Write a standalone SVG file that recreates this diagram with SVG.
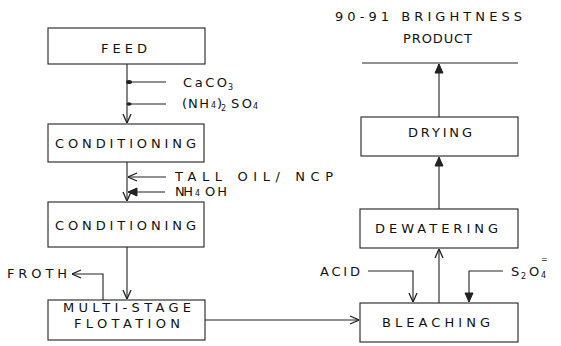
<svg xmlns="http://www.w3.org/2000/svg" width="561" height="346" viewBox="0 0 561 346">
<style>
.box{fill:#fff;stroke:#222;stroke-width:1.1}
.ln{fill:none;stroke:#222;stroke-width:1.1}
text{font-family:"DejaVu Sans","Liberation Sans",sans-serif;font-size:13px;fill:#111}
.sub{font-size:8px}
</style>
<defs>
<marker id="arr" viewBox="0 0 10 10" refX="10" refY="5" markerWidth="10" markerHeight="10" markerUnits="userSpaceOnUse" orient="auto">
<path d="M1,1 L10,5 L1,9" fill="none" stroke="#222" stroke-width="1.3"/>
</marker>
<marker id="arrf" viewBox="0 0 10 10" refX="10" refY="5" markerWidth="10" markerHeight="10" markerUnits="userSpaceOnUse" orient="auto">
<path d="M1,1 L10,5 L1,9 Z" fill="#222" stroke="#222" stroke-width="1"/>
</marker>
</defs>
<rect width="561" height="346" fill="#fff"/>

<g id="connectors">
<path class="ln" d="M127,64 V123" marker-end="url(#arr)"/>
<path class="ln" d="M166,82 H127"/>
<path class="ln" d="M166,104 H127"/>
<ellipse cx="129" cy="82" rx="3" ry="2" fill="#222"/>
<ellipse cx="129" cy="104" rx="2.5" ry="1.8" fill="#222"/>
<path class="ln" d="M127,162 V201" marker-end="url(#arr)"/>
<path class="ln" d="M166,177 H128" marker-end="url(#arr)"/>
<path class="ln" d="M165,192 H128" marker-end="url(#arrf)"/>
<path class="ln" d="M127,247 V299" marker-end="url(#arr)"/>
<path class="ln" d="M103,300 V274 H72" marker-end="url(#arr)"/>
<path class="ln" d="M205,320 H359" marker-end="url(#arr)"/>
<path class="ln" d="M368,271 H413 V302" marker-end="url(#arr)"/>
<path class="ln" d="M503,271 H469 V302" marker-end="url(#arrf)"/>
<path class="ln" d="M439,303 V249" marker-end="url(#arr)"/>
<path class="ln" d="M439,209 V157" marker-end="url(#arrf)"/>
<path class="ln" d="M439,117 V64" marker-end="url(#arrf)"/>
<path class="ln" d="M362,63 H518"/>
</g>

<g id="feed">
<rect class="box" x="48" y="28" width="157" height="36"/>
<text x="101" y="53" textLength="46" lengthAdjust="spacing">FEED</text>
</g>
<g id="conditioning1">
<rect class="box" x="48" y="124" width="156" height="38"/>
<text x="55" y="148" textLength="141" lengthAdjust="spacing">CONDITIONING</text>
</g>
<g id="conditioning2">
<rect class="box" x="48" y="202" width="156" height="45"/>
<text x="55" y="230" textLength="141" lengthAdjust="spacing">CONDITIONING</text>
</g>
<g id="flotation">
<rect class="box" x="48" y="300" width="157" height="40"/>
<text x="63" y="312" textLength="128" lengthAdjust="spacing">MULTI-STAGE</text>
<text x="74" y="328" textLength="106" lengthAdjust="spacing">FLOTATION</text>
</g>
<g id="bleaching">
<rect class="box" x="360" y="303" width="158" height="39"/>
<text x="382" y="327" textLength="108" lengthAdjust="spacing">BLEACHING</text>
</g>
<g id="dewatering">
<rect class="box" x="360" y="209" width="158" height="39"/>
<text x="375" y="233" textLength="123" lengthAdjust="spacing">DEWATERING</text>
</g>
<g id="drying">
<rect class="box" x="361" y="117" width="157" height="39"/>
<text x="408" y="137" textLength="64" lengthAdjust="spacing">DRYING</text>
</g>

<g id="labels">
<text x="335" y="21" textLength="187" lengthAdjust="spacing">90-91 BRIGHTNESS</text>
<text x="403" y="43" textLength="69" lengthAdjust="spacing">PRODUCT</text>
<text x="183" y="87" textLength="44" lengthAdjust="spacing">CaCO</text>
<text class="sub" x="228" y="90">3</text>
<text x="182" y="108">(</text>
<text x="188" y="108" textLength="21" lengthAdjust="spacing">NH</text>
<text class="sub" x="211" y="108">4</text>
<text x="217" y="108">)</text>
<text class="sub" x="221" y="111">2</text>
<text x="231" y="108" textLength="21" lengthAdjust="spacing">SO</text>
<text class="sub" x="253" y="109">4</text>
<text x="175" y="181" textLength="158" lengthAdjust="spacing">TALL OIL/ NCP</text>
<text x="175" y="196" textLength="18" lengthAdjust="spacing">NH</text>
<text class="sub" x="195" y="196">4</text>
<text x="205" y="196" textLength="22" lengthAdjust="spacing">OH</text>
<text x="7" y="278" textLength="60" lengthAdjust="spacing">FROTH</text>
<text x="320" y="276" textLength="40" lengthAdjust="spacing">ACID</text>
<text x="511" y="276">S</text>
<text class="sub" x="521" y="279">2</text>
<text x="529" y="276">O</text>
<text class="sub" x="541" y="278">4</text>
<text class="sub" x="541" y="262">=</text>
</g>
</svg>
